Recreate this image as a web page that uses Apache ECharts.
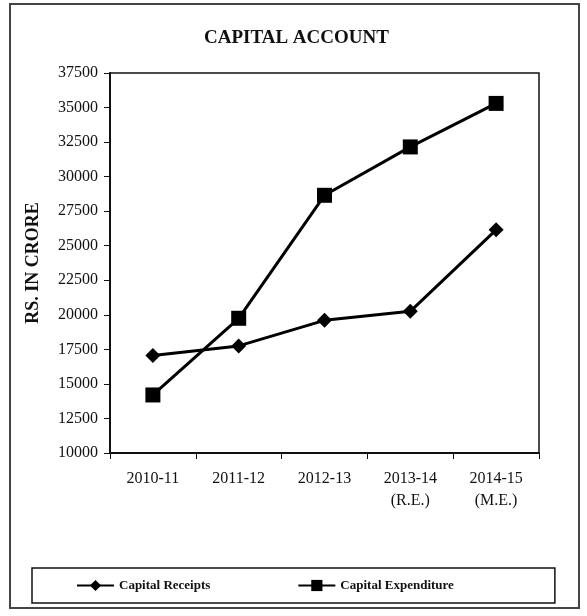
<!DOCTYPE html>
<html>
<head>
<meta charset="utf-8">
<script src="https://cdn.jsdelivr.net/npm/echarts@6/dist/echarts.min.js"></script>
<style>
  html, body { margin: 0; padding: 0; background: #fff; }
  #chart { width: 587px; height: 616px; }
</style>
</head>
<body>
<div id="chart"></div>
<script>
var years = ['2010-11', '2011-12', '2012-13', '2013-14\n(R.E.)', '2014-15\n(M.E.)'];
var receipts = [17050, 17750, 19600, 20250, 26150];
var expenditure = [14200, 19750, 28650, 32150, 35300];
var yMin = 10000, yMax = 37500, yStep = 2500;

var myChart = echarts.init(document.getElementById('chart'));
var serif = '"Liberation Serif", "DejaVu Serif", serif';

option = {
    backgroundColor: '#fff',
    animation: false,
    graphic: [{
        type: 'rect',
        shape: { x: 10, y: 4, width: 569, height: 604 },
        style: { fill: 'none', stroke: '#444', lineWidth: 2 },
        z: -1
    }],
    title: {
        text: 'CAPITAL ACCOUNT',
        left: 204,
        top: 29,
        padding: 0,
        textStyle: { fontFamily: serif, fontSize: 19, fontWeight: 'bold', color: '#111' }
    },
    grid: {
        left: 110,
        right: 48,
        top: 73,
        bottom: 163,
        show: true,
        borderColor: '#111',
        borderWidth: 1.5
    },
    xAxis: {
        type: 'category',
        data: years,
        axisLine: { lineStyle: { color: '#111', width: 2 } },
        axisTick: { show: true, length: 6, lineStyle: { color: '#111' } },
        axisLabel: {
            margin: 15,
            fontFamily: serif,
            fontSize: 16,
            lineHeight: 22,
            color: '#111'
        },
        splitLine: { show: false }
    },
    yAxis: {
        type: 'value',
        min: yMin,
        max: yMax,
        interval: yStep,
        name: 'RS. IN CRORE',
        nameLocation: 'middle',
        nameGap: 68,
        nameTextStyle: { fontFamily: serif, fontSize: 18, fontWeight: 'bold', color: '#111' },
        axisLine: { show: true, lineStyle: { color: '#111', width: 2 } },
        axisTick: { show: true, length: 6, lineStyle: { color: '#111' } },
        axisLabel: {
            margin: 12,
            fontFamily: serif,
            fontSize: 16,
            color: '#111',
            formatter: function (v) { return String(v); }
        },
        splitLine: { show: false }
    },
    legend: {
        left: 32,
        top: 568,
        padding: [11, 101, 11, 44],
        borderColor: '#111',
        borderWidth: 1.5,
        itemWidth: 37,
        itemHeight: 14,
        itemGap: 87,
        textStyle: { fontFamily: serif, fontSize: 13, fontWeight: 'bold', color: '#111' },
        data: ['Capital Receipts', 'Capital Expenditure']
    },
    series: [{
        name: 'Capital Receipts',
        type: 'line',
        data: receipts,
        symbol: 'diamond',
        symbolSize: 15,
        lineStyle: { color: '#000', width: 3 },
        itemStyle: { color: '#000' }
    }, {
        name: 'Capital Expenditure',
        type: 'line',
        data: expenditure,
        symbol: 'rect',
        symbolSize: 15,
        lineStyle: { color: '#000', width: 3 },
        itemStyle: { color: '#000' }
    }]
};
myChart.setOption(option);
</script>
</body>
</html>
